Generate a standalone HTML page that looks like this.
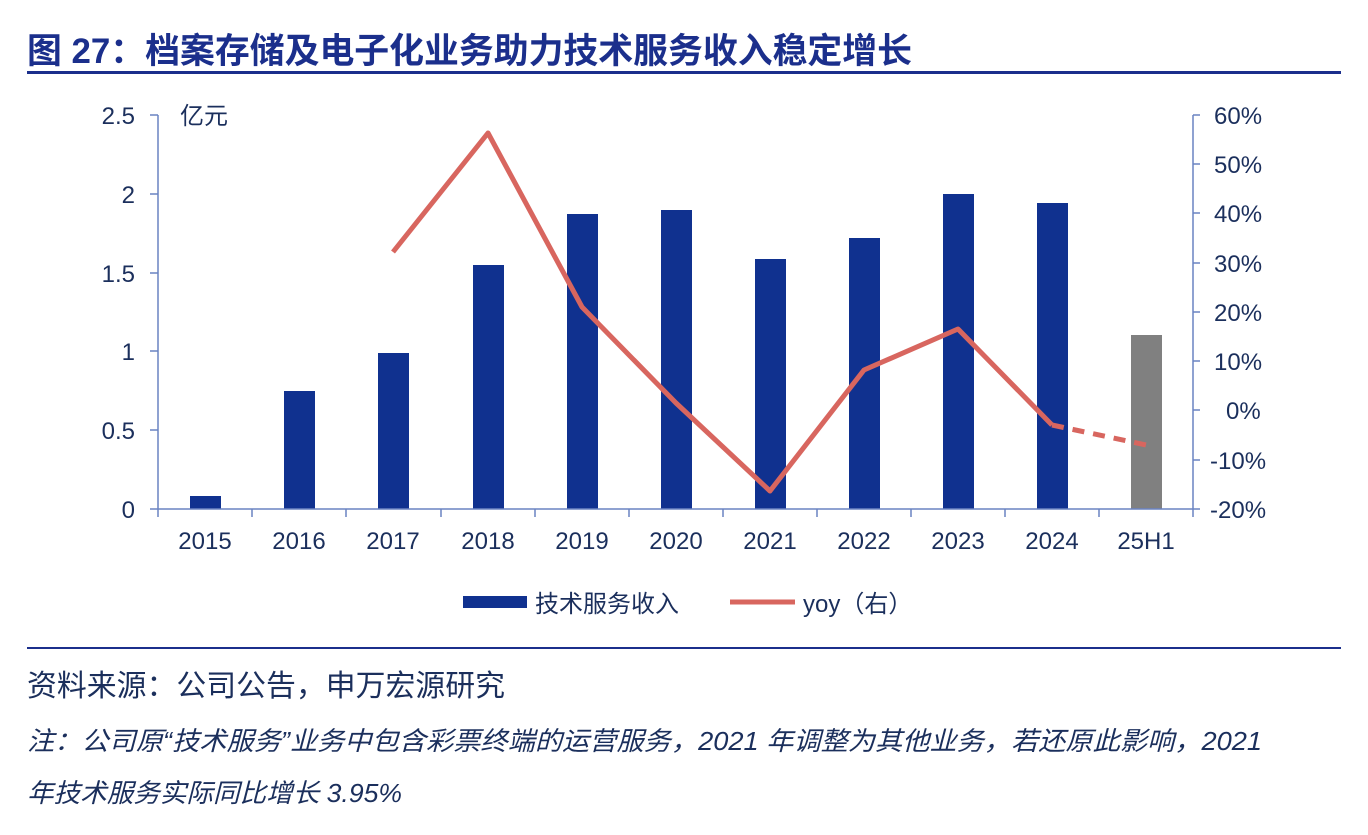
<!DOCTYPE html>
<html><head><meta charset="utf-8"><style>
body{margin:0;background:#fff;width:1368px;height:830px;overflow:hidden;font-family:"Liberation Sans","Noto Sans CJK SC",sans-serif;}
</style></head><body>
<svg width="1368" height="830" xmlns="http://www.w3.org/2000/svg" font-family="Liberation Sans, Noto Sans CJK SC, sans-serif">
<text x="27" y="63" font-size="35" font-weight="bold" fill="#1b2f8c" textLength="885" lengthAdjust="spacingAndGlyphs">图 27：档案存储及电子化业务助力技术服务收入稳定增长</text>
<rect x="27" y="71" width="1314" height="3" fill="#1b2f8c"/>
<g fill="#10318f">
<rect x="190" y="496" width="31" height="13"/>
<rect x="284" y="391" width="31" height="118"/>
<rect x="378" y="353" width="31" height="156"/>
<rect x="473" y="265" width="31" height="244"/>
<rect x="567" y="214" width="31" height="295"/>
<rect x="661" y="210" width="31" height="299"/>
<rect x="755" y="259" width="31" height="250"/>
<rect x="849" y="238" width="31" height="271"/>
<rect x="943" y="194" width="31" height="315"/>
<rect x="1037" y="203" width="31" height="306"/>
</g>
<rect x="1131" y="335" width="31" height="174" fill="#808080"/>
<g stroke="#6a83c2" stroke-width="1.5" fill="none">
<line x1="158" y1="115" x2="158" y2="509"/>
<line x1="1193" y1="115" x2="1193" y2="509"/>
<line x1="150" y1="509" x2="1200" y2="509"/>
<path d="M150 115h8M150 194h8M150 273h8M150 351h8M150 430h8"/>
<path d="M1193 115h7M1193 164h7M1193 213h7M1193 263h7M1193 312h7M1193 361h7M1193 410h7M1193 460h7"/>
<path d="M158 509v8M252 509v8M346 509v8M441 509v8M535 509v8M629 509v8M723 509v8M817 509v8M911 509v8M1005 509v8M1099 509v8M1193 509v8"/>
</g>
<g font-size="24" fill="#1b2f5c" text-anchor="end">
<text x="135" y="124">2.5</text><text x="135" y="203">2</text><text x="135" y="282">1.5</text>
<text x="135" y="360">1</text><text x="135" y="439">0.5</text><text x="135" y="518">0</text>
</g>
<text x="180" y="124" font-size="24" fill="#1b2f5c">亿元</text>
<g font-size="24" fill="#1b2f5c">
<text x="1214" y="124">60%</text><text x="1214" y="173">50%</text><text x="1214" y="222">40%</text>
<text x="1214" y="272">30%</text><text x="1214" y="321">20%</text><text x="1214" y="370">10%</text>
<text x="1226" y="419">0%</text><text x="1210" y="469">-10%</text><text x="1210" y="518">-20%</text>
</g>
<g font-size="24" fill="#1b2f5c" text-anchor="middle">
<text x="205" y="549">2015</text><text x="299" y="549">2016</text><text x="393" y="549">2017</text>
<text x="488" y="549">2018</text><text x="582" y="549">2019</text><text x="676" y="549">2020</text>
<text x="770" y="549">2021</text><text x="864" y="549">2022</text><text x="958" y="549">2023</text>
<text x="1052" y="549">2024</text><text x="1146" y="549">25H1</text>
</g>
<polyline points="393,252 488,133 582,307 676,403 770,491 864,370 958,329 1052,425" fill="none" stroke="#d8665f" stroke-width="5" stroke-linejoin="round"/>
<line x1="1052" y1="425" x2="1146" y2="445" stroke="#d8665f" stroke-width="5" stroke-dasharray="12,9"/>
<rect x="463" y="596" width="64" height="12" fill="#10318f"/>
<text x="535" y="612" font-size="24" fill="#1b2f5c">技术服务收入</text>
<line x1="730" y1="602" x2="795" y2="602" stroke="#d8665f" stroke-width="5"/>
<text x="803" y="612" font-size="24" fill="#1b2f5c">yoy（右）</text>
<rect x="27" y="647" width="1314" height="2" fill="#1b2f8c"/>
<text x="27" y="696" font-size="30" fill="#1b2f5c" textLength="478" lengthAdjust="spacingAndGlyphs">资料来源：公司公告，申万宏源研究</text>
<text x="27" y="750" font-size="26" font-style="italic" fill="#1b2f5c" textLength="1235" lengthAdjust="spacingAndGlyphs">注：公司原“技术服务”业务中包含彩票终端的运营服务，2021 年调整为其他业务，若还原此影响，2021</text>
<text x="27" y="802" font-size="26" font-style="italic" fill="#1b2f5c" textLength="375" lengthAdjust="spacingAndGlyphs">年技术服务实际同比增长 3.95%</text>
</svg>
</body></html>
